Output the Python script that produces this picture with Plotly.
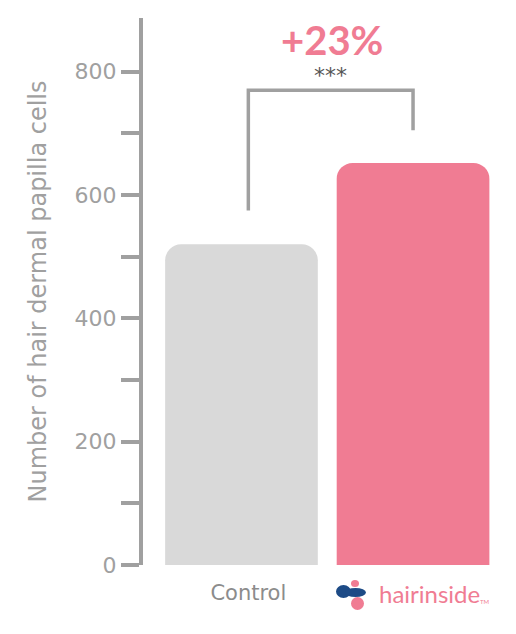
import plotly.graph_objects as go

# Data
groups = ["Control", "hairinside"]
group_pos = [0, 1]
cell_counts = [520, 652]
bar_colors = ["#d9d9d9", "#f07c93"]

y_tick_vals = [0, 100, 200, 300, 400, 500, 600, 700, 800]
y_tick_text = ["0", "", "200", "", "400", "", "600", "", "800"]

# significance bracket between the two groups
bracket_x = [0.04, 0.04, 1.0, 1.0]
bracket_y = [575, 770, 770, 705]
gain_label = "+23%"
signif_label = "***"

GRAY = "#a0a0a0"
PINK = "#f07c93"
BLUE = "#1d4b86"
FONT = "Lato"
WIDE = "DejaVu Sans"

fig = go.Figure()
fig.add_trace(go.Bar(
    x=group_pos, y=cell_counts, width=0.89,
    marker=dict(color=bar_colors, line=dict(width=0)),
    hoverinfo="skip",
))
fig.add_trace(go.Scatter(
    x=bracket_x, y=bracket_y, mode="lines",
    line=dict(color=GRAY, width=3.5), hoverinfo="skip",
))

fig.add_annotation(x=0.53, y=852, text=f"<b>{gain_label}</b>", showarrow=False,
                   font=dict(family=FONT, size=40, color=PINK))
fig.add_annotation(x=0.52, y=793, text=signif_label, showarrow=False,
                   font=dict(family=WIDE, size=22, color="#555555"))

# brand mark under the second bar
fig.add_annotation(x=1, y=0, yref="paper", xshift=16, yshift=-28, yanchor="middle",
                   text="hairinside", showarrow=False,
                   font=dict(family=FONT, size=24, color=PINK))
fig.add_annotation(x=1, y=0, yref="paper", xshift=72, yshift=-36, yanchor="middle",
                   text="TM", showarrow=False, font=dict(family=FONT, size=6, color=PINK))
logo_anchor = (413 - 143) / 362
logo = [
    dict(x0=-77, x1=-62, y0=-33, y1=-20, color=BLUE),
    dict(x0=-68, x1=-47, y0=-32, y1=-23, color=BLUE),
    dict(x0=-62, x1=-54, y0=-22, y1=-15, color=PINK),
    dict(x0=-62, x1=-49, y0=-45, y1=-32, color=PINK),
]
for c in logo:
    fig.add_shape(type="circle", xref="paper", yref="paper", xsizemode="pixel",
                  ysizemode="pixel", xanchor=logo_anchor, yanchor=0,
                  x0=c["x0"], x1=c["x1"], y0=c["y0"], y1=c["y1"],
                  fillcolor=c["color"], line=dict(width=0), layer="above")

fig.update_layout(
    width=516, height=634,
    margin=dict(l=143, r=11, t=18, b=69),
    plot_bgcolor="white", paper_bgcolor="white",
    showlegend=False, barcornerradius=16,
    font=dict(family=FONT, color=GRAY),
)
fig.update_xaxes(
    range=[-0.574, 1.536], tickvals=[0.04], ticktext=["Control"],
    showgrid=False, zeroline=False, showline=False, ticks="",
    tickfont=dict(family=WIDE, size=21, color="#8c8c8c"),
    ticklabelstandoff=13,
)
fig.update_yaxes(
    range=[0, 887], tickvals=y_tick_vals, ticktext=y_tick_text,
    showgrid=False, zeroline=False, showline=True, linecolor=GRAY, linewidth=4,
    ticks="outside", ticklen=18, tickwidth=4, tickcolor=GRAY,
    tickfont=dict(family=WIDE, size=22, color=GRAY),
    title=dict(text="Number of hair dermal papilla cells", standoff=22,
               font=dict(family=WIDE, size=24, color=GRAY)),
)

fig.write_html("out.html")
